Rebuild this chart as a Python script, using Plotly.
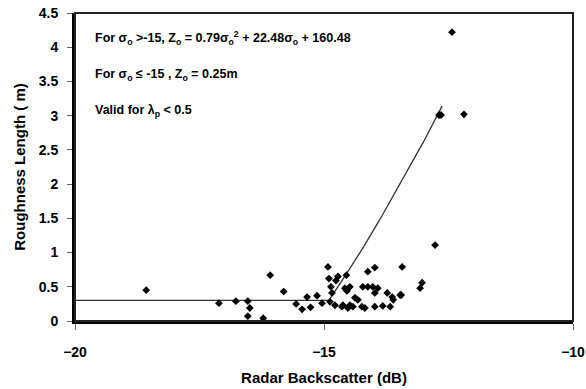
import plotly.graph_objects as go

# Observed data: radar backscatter (dB) vs roughness length (m)
sigma = [-18.57, -17.11, -16.77, -16.53, -16.49, -16.53, -16.22, -16.08,
         -15.81, -15.56, -15.44, -15.34, -15.27, -15.14, -15.04,
         -14.92, -14.90, -14.88, -14.86, -14.84, -14.76, -14.72, -14.78,
         -14.64, -14.54, -14.58, -14.52, -14.55, -14.48, -14.62,
         -14.12, -13.98, -13.43, -14.22, -14.12, -14.02, -13.92,
         -13.98, -13.73, -13.63, -13.47, -13.61, -13.67, -13.98, -13.82,
         -14.38, -14.32, -14.42, -14.24, -14.18, -14.48,
         -12.77, -13.03, -13.07, -13.45, -12.43, -12.69, -12.65, -12.19]
z0 = [0.45, 0.26, 0.29, 0.29, 0.19, 0.07, 0.04, 0.67,
      0.43, 0.25, 0.17, 0.35, 0.20, 0.37, 0.26,
      0.79, 0.62, 0.28, 0.50, 0.41, 0.59, 0.65, 0.23,
      0.21, 0.44, 0.48, 0.19, 0.67, 0.50, 0.23,
      0.72, 0.78, 0.79, 0.50, 0.50, 0.50, 0.48,
      0.41, 0.41, 0.35, 0.38, 0.31, 0.21, 0.21, 0.22,
      0.34, 0.31, 0.21, 0.21, 0.19, 0.23,
      1.11, 0.56, 0.48, 0.38, 4.22, 3.01, 3.01, 3.02]

# Fitted relation as drawn
fit_sigma = [-20.0, -14.90, -14.54, -14.20, -13.88, -13.50, -13.00, -12.63]
fit_z = [0.30, 0.30, 0.70, 1.09, 1.48, 1.97, 2.62, 3.14]

x_ticks = [-20, -15, -10]
y_ticks = [0, 0.5, 1, 1.5, 2, 2.5, 3, 3.5, 4, 4.5]

notes = [
    "For σ<sub>o</sub> >-15, Z<sub>o</sub> = 0.79σ<sub>o</sub><sup>2</sup> + 22.48σ<sub>o</sub> + 160.48",
    "For σ<sub>o</sub> ≤ -15 , Z<sub>o</sub> = 0.25m",
    "Valid for λ<sub>p</sub> < 0.5",
]
note_y = [4.13, 3.6, 3.07]

FONT = "Liberation Sans"

fig = go.Figure()
fig.add_trace(go.Scatter(x=fit_sigma, y=fit_z, mode="lines",
                         line=dict(color="#333333", width=1.3),
                         hoverinfo="skip", showlegend=False))
fig.add_trace(go.Scatter(x=sigma, y=z0, mode="markers",
                         marker=dict(symbol="diamond", size=6, color="black"),
                         showlegend=False))

for t, yv in zip(notes, note_y):
    fig.add_annotation(x=-19.64, y=yv, xref="x", yref="y", text="<b>" + t + "</b>",
                       showarrow=False, xanchor="left", yanchor="middle",
                       font=dict(family=FONT, size=12.5, color="black"))

# frame
fig.add_shape(type="rect", xref="paper", yref="paper", x0=0, y0=0, x1=1, y1=1,
              line=dict(color="#222222", width=2), layer="above")

fig.update_layout(
    width=586, height=389,
    margin=dict(l=75, r=13, t=13, b=68),
    paper_bgcolor="white", plot_bgcolor="white",
    font=dict(family=FONT, color="black"),
    xaxis=dict(range=[-20, -10], tickvals=x_ticks, ticks="outside", ticklen=6,
               tickcolor="#666666", showgrid=False, zeroline=False,
               showline=True, linecolor="black", linewidth=3,
               ticklabelstandoff=10, automargin=False,
               tickfont=dict(family=FONT, size=14, color="black", weight="bold"),
               title=dict(text="<b>Radar Backscatter (dB)</b>", standoff=14,
                          font=dict(family=FONT, size=15, color="black"))),
    yaxis=dict(range=[0, 4.5], tickvals=y_ticks, ticktext=[str(v) for v in y_ticks],
               ticks="outside", ticklen=5, tickcolor="#666666",
               showgrid=False, zeroline=False,
               showline=True, linecolor="black", linewidth=3,
               ticklabelstandoff=6, automargin=False,
               tickfont=dict(family=FONT, size=14, color="black", weight="bold"),
               title=dict(text="<b>Roughness Length ( m)</b>", standoff=10,
                          font=dict(family=FONT, size=15, color="black"))),
)

fig.write_html("out.html")
